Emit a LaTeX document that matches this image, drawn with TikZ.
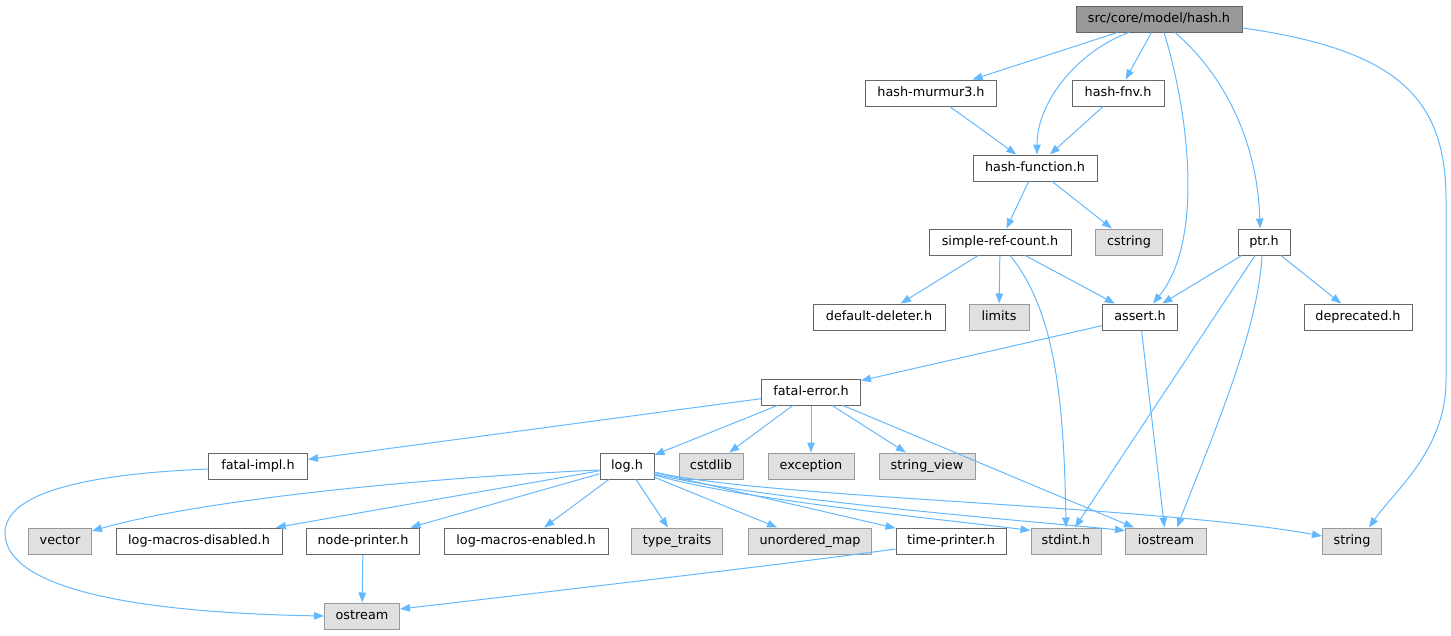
\documentclass[tikz,border=0pt]{standalone}
\usepackage{fontspec}
\setmainfont{DejaVu Sans}
\usepackage{tikz}
\usetikzlibrary{arrows.meta}
\definecolor{edgeblue}{HTML}{63B8FF}

\begin{document}
\begin{tikzpicture}[x=1pt, y=-1pt, line width=1pt,
    file/.style = {draw=black!60, fill=white, minimum height=26pt, inner sep=0pt,
      text height=9.5pt, text depth=2.5pt, font=\fontsize{12.8}{15}\selectfont},
    sysfile/.style = {file, draw=black!40, fill=black!12},
    rootfile/.style = {file, fill=black!40},
    dep/.style = {draw=edgeblue, -{Triangle[length=10pt,width=7.5pt]}}]
        \useasboundingbox (0,0) rectangle (1451,635);

        % top of the include tree
        \node[rootfile, minimum width=166pt] (hash) at (1159,19) {src/core/model/hash.h};
        \node[file, minimum width=131pt] (murmur) at (931,93) {hash-murmur3.h};
        \node[file, minimum width=92pt] (fnv) at (1118,93) {hash-fnv.h};
        \node[file, minimum width=124pt] (hashfn) at (1035,168) {hash-function.h};
        \node[file, minimum width=142pt] (srefc) at (1000,242) {simple-ref-count.h};
        \node[sysfile, minimum width=67pt] (cstring) at (1129,242) {cstring};
        \node[file, minimum width=52pt] (ptr) at (1264,242) {ptr.h};
        \node[file, minimum width=132pt] (deleter) at (879,317) {default-deleter.h};
        \node[sysfile, minimum width=60pt] (limits) at (999,317) {limits};
        \node[file, minimum width=75pt] (assert) at (1140,317) {assert.h};
        \node[file, minimum width=108pt] (deprecated) at (1358,317) {deprecated.h};
        \node[file, minimum width=99pt] (fatalerr) at (811,392) {fatal-error.h};

        % lower rows
        \node[file, minimum width=99pt] (fatalimpl) at (258,466) {fatal-impl.h};
        \node[file, minimum width=54pt] (log) at (627,466) {log.h};
        \node[sysfile, minimum width=64pt] (cstdlib) at (711,466) {cstdlib};
        \node[sysfile, minimum width=86pt] (exception) at (811,466) {exception};
        \node[sysfile, minimum width=96pt] (stringview) at (927,466) {string\_view};
        \node[sysfile, minimum width=63pt] (vector) at (60,541) {vector};
        \node[file, minimum width=166pt] (lmdis) at (199,541) {log-macros-disabled.h};
        \node[file, minimum width=113pt] (nodepr) at (363,541) {node-printer.h};
        \node[file, minimum width=164pt] (lmen) at (526,541) {log-macros-enabled.h};
        \node[sysfile, minimum width=91pt] (typetr) at (677,541) {type\_traits};
        \node[sysfile, minimum width=123pt] (umap) at (810,541) {unordered\_map};
        \node[file, minimum width=110pt] (timepr) at (951,541) {time-printer.h};
        \node[sysfile, minimum width=70pt] (stdint) at (1066,541) {stdint.h};
        \node[sysfile, minimum width=81pt] (iostream) at (1166,541) {iostream};
        \node[sysfile, minimum width=59pt] (string) at (1352,541) {string};
        \node[sysfile, minimum width=75pt] (ostream) at (362,616) {ostream};

        % hash.h
        \draw[dep] (hash) -- (murmur);
        \draw[dep] (hash) -- (fnv);
        \draw[dep] ([xshift=-30pt]hash.south) .. controls (1080,50) and (1037,100) .. ([xshift=2pt]hashfn.north);
        \draw[dep] ([xshift=5pt]hash.south) .. controls (1188,110) and (1205,240) .. ([xshift=13pt]assert.north);
        \draw[dep] ([xshift=16pt]hash.south) .. controls (1230,80) and (1258,150) .. ([xshift=-4pt]ptr.north);
        \draw[dep] ([yshift=-9pt]hash.east) .. controls (1400,50) and (1446,100) .. (1446,200)
            -- (1446,380) .. controls (1446,450) and (1395,490) .. ([xshift=17pt]string.north);

        \draw[dep] (murmur) -- (hashfn);
        \draw[dep] (fnv) -- (hashfn);
        \draw[dep] (hashfn) -- (srefc);
        \draw[dep] (hashfn) -- (cstring);

        % simple-ref-count.h and ptr.h
        \draw[dep] (srefc) -- (deleter);
        \draw[dep] (srefc) -- (limits);
        \draw[dep] (srefc) -- (assert);
        \draw[dep] ([xshift=10pt]srefc.south) .. controls (1055,310) and (1064,400) .. (stdint.north);
        \draw[dep] (ptr) -- (assert);
        \draw[dep] (ptr) -- (deprecated);
        \draw[dep] (ptr) -- (stdint);
        \draw[dep] ([xshift=-2pt]ptr.south) .. controls (1258,330) and (1215,430) .. ([xshift=11pt]iostream.north);

        % assert.h and fatal-error.h
        \draw[dep] (assert) -- (fatalerr);
        \draw[dep] (assert) -- (iostream);
        \draw[dep] (fatalerr) -- (fatalimpl);
        \draw[dep] (fatalerr) -- (log);
        \draw[dep] (fatalerr) -- (cstdlib);
        \draw[dep] (fatalerr) -- (exception);
        \draw[dep] (fatalerr) -- (stringview);
        \draw[dep] (fatalerr) -- (iostream);
        \draw[dep] ([yshift=-3pt]fatalimpl.west) .. controls (60,475) and (5,500) .. (5,533)
            .. controls (5,580) and (100,612) .. (ostream.west);

        % log.h
        \draw[dep] ([yshift=-4pt]log.west) .. controls (420,478) and (200,500) .. ([yshift=10pt]vector.east);
        \draw[dep] (log) -- (lmdis);
        \draw[dep] (log) -- (nodepr);
        \draw[dep] (log) -- (lmen);
        \draw[dep] (log) -- (typetr);
        \draw[dep] (log) -- (umap);
        \draw[dep] (log) -- (timepr);
        \draw[dep] ([yshift=-9pt]log.east) .. controls (740,500) and (950,520) .. ([yshift=-3pt]stdint.north west);
        \draw[dep] ([yshift=-8pt]log.east) .. controls (760,500) and (1040,522) .. ([yshift=-3pt]iostream.north west);
        \draw[dep] ([yshift=-6pt]log.east) .. controls (760,498) and (1150,505) .. ([yshift=5pt]string.west);

        \draw[dep] (nodepr) -- (ostream);
        \draw[dep] ([yshift=-8pt]timepr.west) .. controls (780,565) and (520,595) .. ([yshift=7pt]ostream.east);
\end{tikzpicture}
\end{document}
